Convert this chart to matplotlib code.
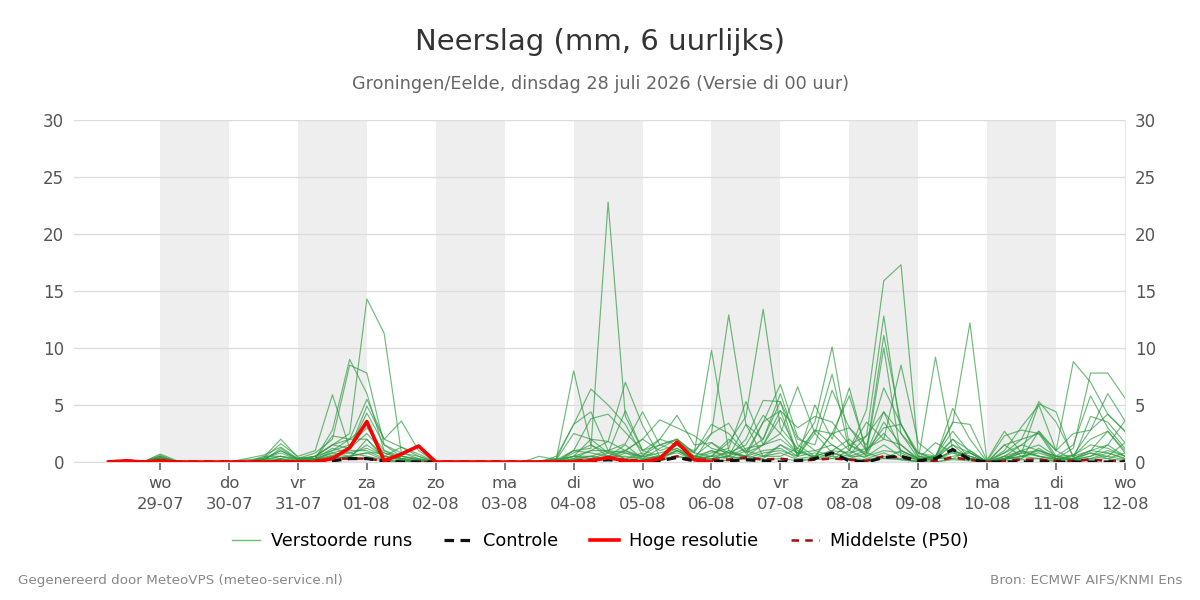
import numpy as np
import pandas as pd
import matplotlib
matplotlib.use("Agg")
import matplotlib.pyplot as plt
import matplotlib.dates as mdates

plt.rcParams['font.family'] = ['DejaVu Sans']

# 6-hourly timestamps of the forecast
times = pd.date_range('2026-07-28 06:00', '2026-08-12 00:00', freq='6h')

# perturbed runs (mm per 6 h)
m01 = [0, 0.1, 0, 0.3, 0, 0, 0, 0, 0, 0.2, 1.0, 0.2, 0.5, 1.5, 2.5,
       14.3, 11.3, 0.8, 0.3, 0, 0, 0, 0, 0, 0, 0, 0.2, 1.0, 1.2, 22.8,
       4.0, 1.0, 0.5, 1.2, 0.3, 0.5, 2.0, 0.8, 1.5, 3.9, 1.0, 0.4, 2.5, 1.0, 4.6,
       15.9, 17.3, 0.8, 0.2, 1.0, 0.5, 0, 0.3, 1.0, 0.5, 0.3, 1.2, 7.8, 7.8, 5.6]
m02 = [0, 0, 0, 0.5, 0, 0, 0, 0, 0.3, 0.6, 1.3, 0.3, 0.8, 2.0, 8.5,
       7.8, 1.5, 0.5, 0.2, 0, 0, 0, 0, 0, 0, 0.1, 0.3, 8.0, 1.5, 0.8,
       1.0, 0.3, 0.5, 1.0, 0.2, 2.5, 12.9, 3.3, 0.5, 1.5, 0.8, 2.8, 1.5, 0.6, 2.3,
       12.8, 2.5, 0.3, 1.7, 0.8, 0.3, 0, 0.5, 1.5, 2.7, 1.0, 8.8, 7.0, 4.2, 2.7]
m03 = [0.1, 0, 0, 0.7, 0.1, 0, 0, 0, 0, 0.4, 2.0, 0.4, 0.3, 2.8, 9.0,
       6.0, 1.0, 0.3, 0.1, 0, 0, 0, 0, 0, 0, 0, 0.5, 3.3, 6.4, 5.0,
       3.3, 0.6, 1.5, 2.0, 0.8, 0.5, 1.7, 4.0, 13.4, 3.0, 1.2, 3.5, 10.1, 1.5, 0.8,
       4.4, 1.0, 0.3, 0.5, 3.4, 12.2, 0, 0.3, 1.0, 0.5, 0.2, 0.6, 2.8, 6.0, 3.6]
m04 = [0, 0.1, 0, 0.4, 0, 0, 0, 0, 0.2, 0.3, 1.6, 0.5, 1.0, 5.9, 1.2,
       4.9, 2.0, 1.3, 0.7, 0, 0, 0, 0, 0, 0, 0, 0.2, 0.5, 2.0, 1.8,
       7.0, 3.2, 0.5, 1.5, 0.8, 9.8, 1.0, 0.5, 3.5, 6.8, 2.2, 1.0, 0.5, 1.5, 0.6,
       3.5, 1.5, 0.2, 9.2, 1.0, 0.5, 0.1, 0.8, 2.0, 5.3, 3.5, 0.5, 1.0, 0.8, 0.3]
m05 = [0, 0, 0, 0.3, 0, 0, 0, 0, 0, 0.5, 0.5, 0.2, 0.2, 1.0, 2.0,
       5.5, 2.0, 3.6, 1.0, 0, 0, 0, 0, 0, 0, 0, 0, 1.0, 3.8, 4.2,
       2.6, 1.0, 2.0, 4.1, 1.5, 1.7, 0.5, 3.3, 2.0, 6.0, 1.5, 0.5, 2.5, 3.0, 1.0,
       11.1, 3.3, 0.8, 0.3, 4.7, 2.0, 0, 1.5, 0.5, 1.0, 0.3, 0.2, 4.0, 3.5, 1.7]
m06 = [0, 0, 0, 0.2, 0, 0, 0, 0, 0, 0.2, 0.3, 0.1, 0.5, 1.5, 1.2,
       4.3, 1.5, 0.8, 0.5, 0, 0, 0, 0, 0, 0, 0, 0, 0.3, 1.0, 1.0,
       1.6, 4.4, 1.5, 1.0, 0.3, 0.8, 1.2, 5.3, 1.5, 4.5, 0.5, 5.0, 2.0, 6.5, 0.8,
       10.0, 0.5, 0.2, 0.5, 2.0, 0.3, 0, 0.3, 0.8, 5.1, 4.4, 0.3, 1.0, 2.7, 1.0]
m07 = [0, 0.2, 0, 0.4, 0, 0, 0, 0, 0, 0.3, 1.0, 0.3, 0.3, 2.3, 2.0,
       3.2, 0.5, 0.3, 0.2, 0, 0, 0, 0, 0, 0, 0, 0, 0.5, 0.5, 0.3,
       1.0, 2.0, 3.7, 3.0, 2.3, 1.2, 0.8, 1.5, 4.1, 2.5, 6.6, 2.5, 7.7, 1.0, 3.5,
       2.0, 8.5, 1.7, 0.5, 2.7, 0.8, 0, 1.0, 3.1, 5.0, 1.0, 0.2, 0.5, 1.5, 0.5]
m08 = [0, 0, 0, 0.1, 0, 0, 0, 0, 0, 0, 0.2, 0, 0.1, 0.5, 0.3,
       2.0, 0.3, 0.1, 0, 0, 0, 0, 0, 0, 0, 0, 0.3, 3.3, 4.4, 1.0,
       0.8, 0.5, 2.0, 1.5, 0.5, 0.3, 0.5, 2.0, 5.4, 5.3, 2.0, 1.5, 6.3, 3.0, 1.5,
       6.5, 3.3, 0.5, 0.3, 1.5, 0.3, 0.2, 2.7, 0.8, 1.0, 0.5, 1.5, 5.8, 3.0, 1.2]
m09 = [0, 0, 0, 0.3, 0, 0, 0, 0, 0, 0.1, 1.2, 0.2, 0.5, 1.0, 1.5,
       3.0, 1.0, 0.5, 0.3, 0, 0, 0, 0, 0, 0, 0.5, 0.2, 2.5, 2.0, 0.8,
       4.5, 1.0, 1.5, 2.0, 0.8, 3.3, 2.5, 0.8, 3.5, 4.5, 3.0, 4.0, 3.5, 1.5, 2.3,
       4.4, 2.5, 0.8, 0.5, 3.5, 3.3, 0.1, 2.3, 2.8, 2.5, 1.0, 2.5, 2.8, 4.2, 2.7]
m10 = [0, 0, 0, 0.5, 0, 0, 0, 0, 0, 0.2, 0.5, 0.3, 0.5, 1.5, 2.0,
       2.0, 0.5, 1.3, 0.5, 0, 0, 0, 0, 0, 0, 0, 0, 0.5, 1.0, 1.8,
       1.0, 2.0, 1.0, 1.5, 1.0, 2.5, 3.4, 1.0, 2.0, 5.3, 0.5, 2.8, 2.5, 5.8, 1.0,
       3.0, 3.3, 0.5, 0.3, 2.0, 1.0, 0, 1.5, 2.0, 2.5, 0.3, 0.5, 2.0, 2.7, 0.8]
m11 = [0, 0, 0, 0.2, 0, 0, 0, 0, 0, 0.3, 0.8, 0.2, 0.2, 0.8, 0.5,
       1.5, 0.5, 0.2, 0, 0, 0, 0, 0, 0, 0, 0, 0, 1.0, 0.8, 0.5,
       1.0, 0.5, 0.3, 1.0, 0.5, 1.0, 0.5, 1.2, 1.5, 2.0, 0.8, 1.0, 1.5, 0.5, 1.0,
       2.5, 1.0, 0.3, 0.2, 1.0, 0.5, 0, 0.5, 1.0, 1.5, 0.5, 0.3, 1.0, 1.5, 3.6]
m12 = [0, 0, 0, 0.3, 0, 0, 0, 0, 0, 0, 0.3, 0, 0.2, 0.5, 1.0,
       1.0, 0.3, 0.5, 0.2, 0, 0, 0, 0, 0, 0, 0, 0, 0.2, 0.3, 0.5,
       0.5, 0.2, 0.5, 1.5, 0.3, 0.5, 0.3, 0.5, 1.0, 1.2, 0.3, 0.5, 1.0, 2.0, 0.5,
       1.5, 0.5, 0.2, 0.3, 0.5, 0.8, 0, 0.3, 0.5, 0.8, 0.3, 0.2, 0.5, 1.0, 0.5]
m13 = [0, 0, 0, 0.4, 0, 0, 0, 0, 0, 0, 0, 0, 0, 0.3, 0.5,
       0.8, 0.2, 0, 0, 0, 0, 0, 0, 0, 0, 0, 0, 0, 0.2, 0.3,
       0.2, 0.1, 0.2, 1.0, 0.2, 0.3, 0.5, 0.2, 0.5, 0.8, 0.2, 0.3, 0.5, 0.3, 0.2,
       0.5, 0.3, 0, 0, 0.3, 0.2, 0, 0.2, 0.5, 0.3, 0.1, 0.1, 0.3, 0.5, 0.2]
m14 = [0, 0.1, 0, 0.2, 0, 0, 0, 0, 0, 0, 0.1, 0, 0.3, 1.2, 0.8,
       1.2, 0.5, 0.2, 0.1, 0, 0, 0, 0, 0, 0, 0, 0, 0.3, 0.5, 1.0,
       0.3, 0.5, 0.8, 1.2, 0.5, 0.2, 1.0, 0.3, 0.8, 1.0, 0.5, 2.5, 0.8, 0.5, 0.5,
       1.0, 0.8, 0.2, 0.2, 1.0, 0.3, 0, 0.5, 0.3, 2.7, 0.5, 0.2, 0.8, 0.5, 1.7]
m15 = [0, 0, 0, 0.6, 0, 0, 0, 0, 0, 0.1, 0.2, 0.1, 0.3, 0.8, 1.2,
       2.5, 0.8, 0.3, 0, 0, 0, 0, 0, 0, 0, 0, 0, 0.8, 1.5, 0.5,
       1.5, 0.3, 1.2, 2.0, 0.5, 1.7, 0.8, 0.5, 1.5, 2.5, 0.8, 0.5, 1.0, 0.8, 1.2,
       2.0, 1.5, 0.3, 0.5, 1.5, 0.8, 0, 0.8, 1.5, 1.0, 0.5, 0.6, 1.5, 1.2, 0.5]
m16 = [0, 0, 0, 0.2, 0, 0, 0, 0, 0, 0.2, 0.5, 0.1, 0.2, 0.6, 0.8,
       0.5, 0.2, 0, 0, 0, 0, 0, 0, 0, 0, 0, 0, 0.2, 0.5, 0.2,
       0.8, 0.2, 0.5, 0.8, 0.2, 0.5, 0.8, 0.5, 0.3, 1.5, 0.5, 0.8, 0.3, 1.0, 0.3,
       0.8, 0.2, 0.1, 0.2, 0.8, 0.3, 0, 0.2, 0.8, 0.5, 0.2, 0.3, 0.8, 0.3, 0.8]
m17 = [0, 0, 0, 0.3, 0, 0, 0, 0, 0, 0, 0.2, 0, 0.3, 0.3, 0.5,
       0.8, 0.8, 0.3, 0, 0, 0, 0, 0, 0, 0, 0, 0.2, 0.5, 0.3, 0.8,
       0.3, 0.8, 0.3, 0.5, 0.3, 1.0, 0.3, 1.0, 0.5, 0.5, 1.2, 0.3, 0.8, 0.3, 0.8,
       0.3, 1.0, 0.3, 0.3, 0.3, 1.0, 0, 0.3, 0.3, 1.2, 0.3, 0.2, 0.3, 0.8, 0.3]
m18 = [0, 0, 0, 0.1, 0, 0, 0, 0, 0, 0, 0, 0, 0, 0.2, 0.3,
       0.3, 0.1, 0, 0, 0, 0, 0, 0, 0, 0, 0, 0, 0, 0.1, 0.2,
       0.2, 0, 0.1, 0.5, 0.1, 0.2, 0.1, 0.3, 0.2, 0.3, 0.1, 0.2, 0.3, 0.2, 0.1,
       0.3, 0.2, 0, 0, 0.2, 0.1, 0, 0.1, 0.2, 0.3, 0, 0, 0.2, 0.3, 0.1]
members = [m01, m02, m03, m04, m05, m06, m07, m08, m09,
           m10, m11, m12, m13, m14, m15, m16, m17, m18]

control = [0, 0.1, 0, 0.1, 0, 0, 0, 0, 0, 0, 0, 0, 0, 0.1, 0.3,
           0.3, 0.1, 0, 0, 0, 0, 0, 0, 0, 0, 0, 0, 0, 0.1, 0.2,
           0.1, 0, 0.1, 0.4, 0.1, 0, 0.1, 0.2, 0.1, 0, 0.1, 0.3, 0.8, 0.1, 0,
           0.4, 0.5, 0.1, 0.3, 1.1, 0.2, 0, 0, 0, 0, 0, 0, 0, 0, 0]
median = [0, 0, 0, 0.1, 0, 0, 0, 0, 0, 0, 0.1, 0, 0.1, 0.3, 0.3,
          0.3, 0.1, 0, 0, 0, 0, 0, 0, 0, 0, 0, 0, 0.1, 0.2, 0.2,
          0.2, 0.1, 0.2, 0.5, 0.2, 0.2, 0.2, 0.4, 0.2, 0.3, 0.1, 0.2, 0.3, 0.2, 0.1,
          0.5, 0.4, 0.1, 0.1, 0.4, 0.2, 0, 0.1, 0.2, 0.2, 0.1, 0.1, 0.2, 0.1, 0.1]
# high resolution run only covers the first days
hres = [0, 0.1, 0, 0.1, 0, 0, 0, 0, 0, 0, 0, 0, 0, 0.3, 1.25,
        3.55, 0.1, 0.7, 1.4, 0, 0, 0, 0, 0, 0, 0, 0, 0, 0.1, 0.4,
        0.1, 0, 0.3, 1.75, 0.2, 0]

tick_days = pd.date_range('2026-07-29', '2026-08-12', freq='D')
weekdays = ['wo', 'do', 'vr', 'za', 'zo', 'ma', 'di', 'wo',
            'do', 'vr', 'za', 'zo', 'ma', 'di', 'wo']
shaded_days = ['2026-07-29', '2026-07-31', '2026-08-02', '2026-08-04',
               '2026-08-06', '2026-08-08', '2026-08-10']

fig = plt.figure(figsize=(12, 6), dpi=100)
ax = fig.add_axes([74 / 1200, 1 - 462 / 600, (1125 - 74) / 1200, 342 / 600])

for d in shaded_days:
    start = pd.Timestamp(d)
    ax.axvspan(start, start + pd.Timedelta(days=1), color='#eeeeee', lw=0, zorder=0)

for m in members:
    ax.plot(times, m, color='#2b9a3e', lw=0.85, alpha=0.68, zorder=2)
ax.plot(times, median, color='#a01010', lw=1.8, ls=(0, (3, 2.5)), zorder=3)
ax.plot(times, control, color='#111111', lw=2.3, ls=(0, (3, 2)), zorder=4)
ax.plot(times[:len(hres)], hres, color='#ff0000', lw=2.6, zorder=5)

ax.set_xlim(pd.Timestamp('2026-07-27 18:00'), pd.Timestamp('2026-08-12 00:00'))
ax.set_ylim(0, 30)
ax.set_yticks(range(0, 31, 5))
ax.grid(axis='y', color='#dddddd', lw=1)
ax.set_axisbelow(True)
ax.set_xticks(tick_days)
ax.set_xticklabels([f'{w}\n{d.strftime("%d-%m")}' for w, d in zip(weekdays, tick_days)],
                   fontsize=11.8, color='#555555', linespacing=1.5)
ax.tick_params(axis='x', length=6, color='#666666', width=1.2, pad=4)
ax.tick_params(axis='y', length=0, labelsize=12, labelcolor='#555555', pad=7)
for s in ['top', 'left', 'right']:
    ax.spines[s].set_visible(False)
ax.spines['bottom'].set_color('#dddddd')

ax2 = ax.twinx()
ax2.set_ylim(0, 30)
ax2.set_yticks(range(0, 31, 5))
ax2.tick_params(axis='y', length=0, labelsize=12, labelcolor='#555555', pad=7)
for s in ['top', 'left', 'bottom']:
    ax2.spines[s].set_visible(False)
ax2.spines['right'].set_color('#e6e6e6')

fig.text(0.5, 0.93, 'Neerslag (mm, 6 uurlijks)', ha='center', va='center',
         fontsize=21, color='#333333')
fig.text(0.5, 0.86, 'Groningen/Eelde, dinsdag 28 juli 2026 (Versie di 00 uur)',
         ha='center', va='center', fontsize=12.7, color='#666666')

handles = [
    plt.Line2D([], [], color='#6cc070', lw=1),
    plt.Line2D([], [], color='#111111', lw=2.3, ls=(0, (3, 2))),
    plt.Line2D([], [], color='#ff0000', lw=2.6),
    plt.Line2D([], [], color='#a01010', lw=1.8, ls=(0, (3, 2.5))),
]
labels = ['Verstoorde runs', 'Controle', 'Hoge resolutie', 'Middelste (P50)']
fig.legend(handles, labels, loc='center', bbox_to_anchor=(0.5, 0.098), ncol=4,
           frameon=False, fontsize=12.8, handlelength=1.6, columnspacing=1.8,
           handletextpad=0.6)

fig.text(0.015, 0.033, 'Gegenereerd door MeteoVPS (meteo-service.nl)',
         ha='left', va='center', fontsize=9.7, color='#888888')
fig.text(0.985, 0.033, 'Bron: ECMWF AIFS/KNMI Ens',
         ha='right', va='center', fontsize=9.7, color='#888888')

fig.savefig('out.png', dpi=100)
